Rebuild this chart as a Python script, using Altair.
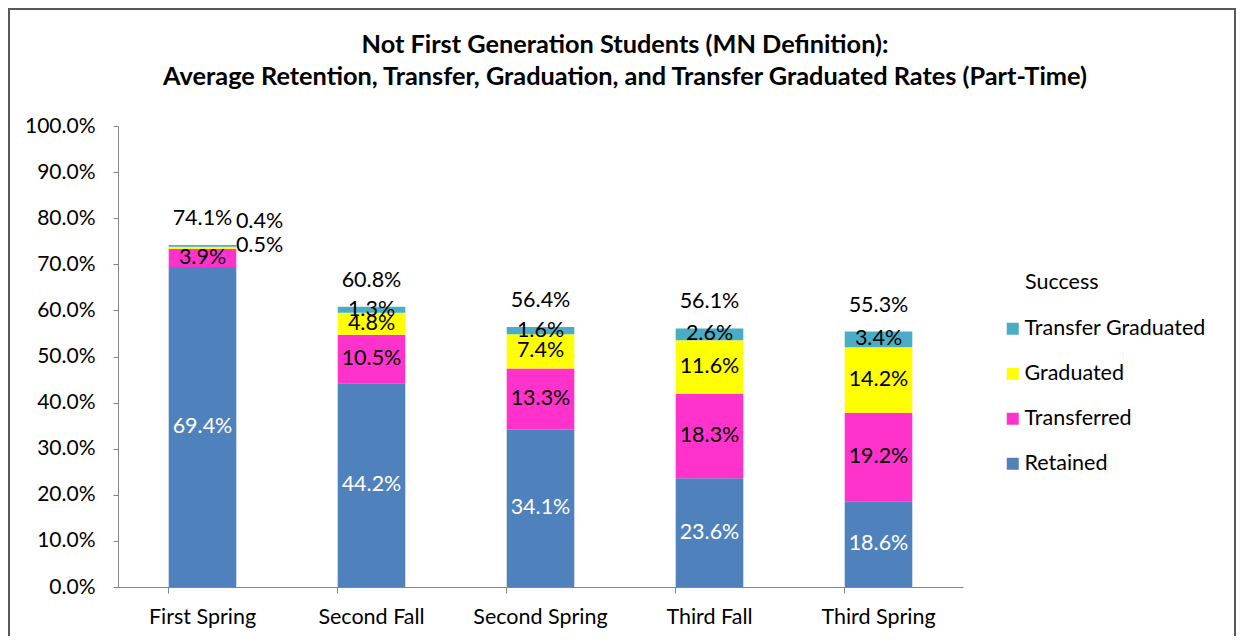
import altair as alt
import pandas as pd

periods = ["First Spring", "Second Fall", "Second Spring", "Third Fall", "Third Spring"]
series = ["Retained", "Transferred", "Graduated", "Transfer Graduated"]
retained = [69.4, 44.2, 34.1, 23.6, 18.6]
transferred = [3.9, 10.5, 13.3, 18.3, 19.2]
graduated = [0.5, 4.8, 7.4, 11.6, 14.2]
transfer_graduated = [0.4, 1.3, 1.6, 2.6, 3.4]
totals = [74.1, 60.8, 56.4, 56.1, 55.3]
colors = ["#4F81BD", "#FF33CC", "#FFFF00", "#4BACC6"]
title_lines = ["Not First Generation Students (MN Definition):",
               "Average Retention, Transfer, Graduation, and Transfer Graduated Rates (Part-Time)"]

rows = []
for si, (name, vals) in enumerate(zip(series, [retained, transferred, graduated, transfer_graduated])):
    for p, v in zip(periods, vals):
        rows.append({"period": p, "series": name, "ord": si, "value": v / 100.0,
                     "label": f"{v:.1f}%"})
df = pd.DataFrame(rows)
tot_df = pd.DataFrame({"period": periods, "total": [t / 100.0 for t in totals],
                       "label": [f"{t:.1f}%" for t in totals]})

FONT = "Lato"
FS = 21.5
W, H = 845, 461

xenc = alt.X("period:N", sort=periods, title=None,
             scale=alt.Scale(paddingInner=0.6, paddingOuter=0.3),
             axis=alt.Axis(labelAngle=0, bandPosition=0, tickSize=6, labelPadding=13,
                           labelFontSize=21.5, labelColor="#000000", domainColor="#868686",
                           tickColor="#868686", labelFont=FONT))

base = alt.Chart(df)

bars = base.mark_bar().encode(
    x=xenc,
    y=alt.Y("value:Q", stack="zero", title=None,
            scale=alt.Scale(domain=[0, 1], nice=False),
            axis=alt.Axis(format=".1%", values=[i / 10 for i in range(11)], tickSize=5,
                          labelPadding=18, labelFontSize=21, labelColor="#000000",
                          domainColor="#868686", tickColor="#868686", grid=False,
                          labelFont=FONT)),
    color=alt.Color("series:N",
                    scale=alt.Scale(domain=series[::-1], range=colors[::-1]),
                    legend=alt.Legend(title=None, orient="none", legendX=884, legendY=192,
                                      symbolType="square", symbolSize=144, symbolStrokeWidth=0,
                                      labelFontSize=FS, labelFont=FONT, rowPadding=22,
                                      labelOffset=1, labelLimit=400, labelColor="#000000")),
    order=alt.Order("ord:Q"),
)

stacked = base.transform_stack(
    stack="value", groupby=["period"], sort=[alt.SortField("ord")], as_=["y0", "y1"]
).transform_calculate(mid="(datum.y0 + datum.y1) / 2")

normal = stacked.transform_filter(
    "!(datum.period == 'First Spring' && datum.ord >= 2)"
)
labels = normal.mark_text(fontSize=FS, font=FONT, baseline="middle").encode(
    x=alt.X("period:N", sort=periods),
    y=alt.Y("mid:Q"),
    text="label:N",
    color=alt.condition("datum.ord == 0", alt.value("#FFFFFF"), alt.value("#000000")),
)

small_g = stacked.transform_filter(
    "datum.period == 'First Spring' && datum.ord == 2"
).mark_text(fontSize=FS, font=FONT, baseline="middle", dx=57, dy=-2, color="#000000").encode(
    x=alt.X("period:N", sort=periods), y=alt.Y("mid:Q"), text="label:N")

small_tg = stacked.transform_filter(
    "datum.period == 'First Spring' && datum.ord == 3"
).mark_text(fontSize=FS, font=FONT, baseline="middle", dx=57, dy=-24, color="#000000").encode(
    x=alt.X("period:N", sort=periods), y=alt.Y("mid:Q"), text="label:N")

total_labels = alt.Chart(tot_df).mark_text(fontSize=FS, font=FONT, baseline="middle",
                                           dy=-26, color="#000000").encode(
    x=alt.X("period:N", sort=periods), y=alt.Y("total:Q"), text="label:N")

legend_title = alt.Chart(pd.DataFrame({"t": ["Success"]})).mark_text(
    fontSize=FS, font=FONT, align="left", baseline="middle", color="#000000"
).encode(x=alt.value(907), y=alt.value(157), text="t:N")

title1 = alt.Chart(pd.DataFrame({"t": [title_lines[0]]})).mark_text(
    fontSize=25.3, font=FONT, fontWeight="bold", align="center", baseline="middle", color="#000000"
).encode(x=alt.value(507), y=alt.value(-81), text="t:N")
title2 = alt.Chart(pd.DataFrame({"t": [title_lines[1]]})).mark_text(
    fontSize=25.3, font=FONT, fontWeight="bold", align="center", baseline="middle", color="#000000"
).encode(x=alt.value(507), y=alt.value(-49), text="t:N")

border = alt.Chart(pd.DataFrame({"a": [0]})).mark_rect(
    fill=None, stroke="#595959", strokeWidth=2
).encode(x=alt.value(-109), x2=alt.value(1117), y=alt.value(-117), y2=alt.value(700))

chart = alt.layer(border, bars, labels, small_g, small_tg, total_labels, legend_title,
                  title1, title2).properties(
    width=W, height=H,
    background="#FFFFFF",
    autosize=alt.AutoSizeParams(type="none"),
    padding={"left": 110, "top": 118, "right": 273, "bottom": 49},
).configure_view(stroke=None)

chart.save("out.html", embed_options={"renderer": "svg", "actions": False})
